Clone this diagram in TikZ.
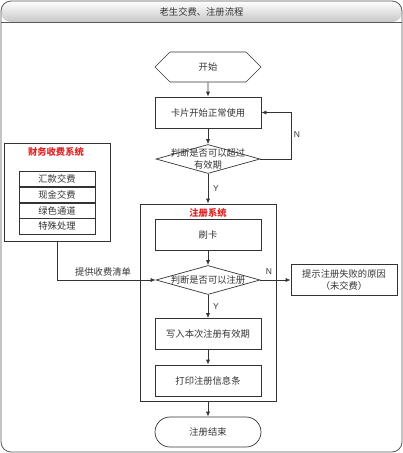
\documentclass[tikz,border=0pt]{standalone}
\usepackage{fontspec}
\setmainfont{Liberation Sans}
\newfontfamily\cjk{Noto Sans CJK SC}
\usetikzlibrary{arrows.meta,shapes.geometric,shapes.misc,shapes.symbols}
\definecolor{linec}{HTML}{333333}
\definecolor{redt}{HTML}{E02424}
\tikzset{
  base/.style={draw=linec, line width=0.7pt, inner sep=0pt, font=\cjk\fontsize{9.3}{12}\selectfont, text=black!80},
  stepbox/.style={base, rectangle, minimum width=106pt, minimum height=31pt, align=center},
  dia/.style={base, diamond, minimum width=104pt, minimum height=29pt},
  txt/.style={inner sep=0pt, font=\cjk\fontsize{9.3}{12}\selectfont, text=black!80, align=center},
  frame/.style={draw=linec, line width=0.7pt},
  lst/.style={base, rectangle, minimum width=76pt, minimum height=15.25pt},
  redtitle/.style={inner sep=0pt, font=\cjk\bfseries\fontsize{9.3}{12}\selectfont, text=redt},
  yn/.style={inner sep=0pt, font=\fontsize{8.5}{10}\selectfont, text=black!80},
  arr/.style={draw=linec, line width=0.7pt, -{Latex[length=5pt,width=4pt]}},
  ln/.style={draw=linec, line width=0.7pt}
}
\begin{document}
\begin{tikzpicture}[x=1pt,y=-1pt]
\useasboundingbox (0,0) rectangle (403,453);
% outer frame and title bar
\shade[top color=white, bottom color=black!22, rounded corners=10pt] (1,22) -- (1,1) -- (402,1) -- (402,22) -- cycle;
\draw[draw=black!65, line width=0.8pt, rounded corners=10pt] (1,452) -- (1,1) -- (402,1) -- (402,452) -- cycle;
\draw[draw=black!65, line width=0.8pt] (1,22) -- (402,22);
\node[txt] (title) at (201.5,12) {老生交费、注册流程};

% main flow
\node[base, signal, signal to=west and east, signal pointer angle=90, minimum width=106pt, minimum height=30pt] (start) at (208,67) {开始};
\node[stepbox] (use) at (208,112.5) {卡片开始正常使用};
\node[dia] (d1) at (208,159) {};
\node[txt] (d1t) at (208,158.5) {判断是否可以超过\\有效期};

% registration system frame
\node[frame, rectangle, minimum width=136pt, minimum height=197pt, inner sep=0pt] (reg) at (208,302.5) {};
\node[redtitle] (regt) at (208,212.5) {注册系统};
\node[stepbox] (swipe) at (208,235) {刷卡};
\node[dia] (d2) at (208,280) {};
\node[txt] (d2t) at (208,280) {判断是否可以注册};
\node[stepbox] (write) at (208,334) {写入本次注册有效期};
\node[stepbox] (print) at (208,380.5) {打印注册信息条};
\node[base, rounded rectangle, minimum width=106pt, minimum height=30pt] (end) at (208,432) {注册结束};

\node[stepbox] (fail) at (344,280) {提示注册失败的原因\\（未交费）};

% finance system
\node[frame, rectangle, minimum width=106pt, minimum height=98pt, inner sep=0pt] (fin) at (57,192) {};
\node[redtitle] (fint) at (56,152) {财务收费系统};
\node[lst] (l1) at (57,178.6) {汇款交费};
\node[lst, anchor=north] (l2) at (l1.south) {现金交费};
\node[lst, anchor=north] (l3) at (l2.south) {绿色通道};
\node[lst, anchor=north] (l4) at (l3.south) {特殊处理};

% connectors
\draw[arr] (start) -- (use);
\draw[arr] (use) -- (d1);
\coordinate (n1) at (291,159);
\coordinate (n2) at (291,112.5);
\draw[arr] (d1.east) -- (n1) -- (n2) -- (use.east);
\node[yn] at (297,135) {N};
\draw[arr] (d1.south) -- (reg.north);
\node[yn] at (216,189) {Y};
\draw[arr] (swipe) -- (d2);
\draw[arr] (d2.east) -- (fail.west);
\node[yn] at (269,272) {N};
\draw[arr] (d2.south) -- (write.north);
\node[yn] at (216,307) {Y};
\draw[arr] (write) -- (print);
\draw[arr] (reg.south) -- (end.north);
\coordinate (c1) at (57,280);
\draw[arr] (fin.south) -- (c1) -- (d2.west);
\node[txt] (feelist) at (103,272) {提供收费清单};
\end{tikzpicture}
\end{document}
